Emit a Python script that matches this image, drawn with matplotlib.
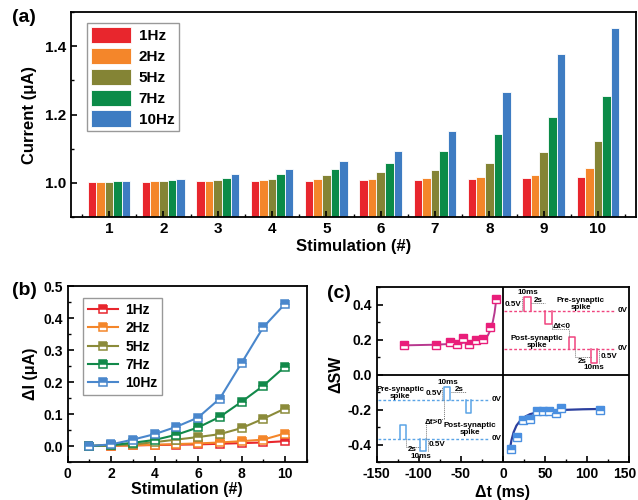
import numpy as np
import matplotlib
matplotlib.use("Agg")
import matplotlib.pyplot as plt
from matplotlib.ticker import MultipleLocator

plt.rcParams['font.family'] = ['Liberation Sans', 'DejaVu Sans']
plt.rcParams['font.weight'] = 'bold'
plt.rcParams['axes.labelweight'] = 'bold'
plt.rcParams['axes.linewidth'] = 1.3
plt.rcParams['mathtext.default'] = 'regular'

# ---- panel (a) / (b) data ----
stim = [1, 2, 3, 4, 5, 6, 7, 8, 9, 10]
freqs = ['1Hz', '2Hz', '5Hz', '7Hz', '10Hz']
bar_colors = ['#E8262D', '#F4862A', '#848435', '#0B8B48', '#3E7CC2']
line_colors = ['#E8262D', '#F4862A', '#8B8B3A', '#12894A', '#4A87CC']

current_1hz = [1.002, 1.003, 1.004, 1.005, 1.006, 1.007, 1.009, 1.011, 1.013, 1.018]
current_2hz = [1.003, 1.004, 1.006, 1.008, 1.011, 1.012, 1.015, 1.018, 1.023, 1.042]
current_5hz = [1.003, 1.004, 1.007, 1.011, 1.024, 1.032, 1.039, 1.058, 1.089, 1.121]
current_7hz = [1.004, 1.008, 1.013, 1.026, 1.041, 1.059, 1.094, 1.143, 1.192, 1.254]
current_10hz = [1.004, 1.010, 1.026, 1.041, 1.063, 1.092, 1.153, 1.267, 1.378, 1.454]

delta_1hz = [0.0, 0.001, 0.002, 0.003, 0.004, 0.005, 0.007, 0.009, 0.011, 0.015]
delta_2hz = [0.0, 0.001, 0.002, 0.004, 0.006, 0.008, 0.011, 0.015, 0.020, 0.039]
delta_5hz = [0.0, 0.002, 0.005, 0.012, 0.020, 0.028, 0.037, 0.056, 0.085, 0.117]
delta_7hz = [0.0, 0.003, 0.010, 0.019, 0.035, 0.058, 0.091, 0.138, 0.188, 0.248]
delta_10hz = [0.0, 0.005, 0.020, 0.037, 0.060, 0.089, 0.148, 0.259, 0.371, 0.444]

# ---- panel (c) data ----
ltd_dt = [-117, -79, -63, -55, -47, -40, -32, -24, -16, -8]
ltd_dsw = [0.171, 0.171, 0.190, 0.177, 0.209, 0.177, 0.200, 0.206, 0.272, 0.434]
ltd_fit_dt = [-120, -100, -80, -60, -40, -30, -22, -18, -15, -12, -10, -8]
ltd_fit_dsw = [0.168, 0.170, 0.172, 0.177, 0.186, 0.194, 0.207, 0.225, 0.255, 0.305, 0.355, 0.43]

ltp_dt = [9, 16.5, 24, 32, 40, 47, 55, 63, 69, 115]
ltp_dsw = [-0.423, -0.357, -0.261, -0.255, -0.204, -0.204, -0.208, -0.220, -0.190, -0.200]
ltp_fit_dt = [8, 10, 12.6, 16, 20.6, 26, 32, 40, 48, 60, 76, 95, 118]
ltp_fit_dsw = [-0.43, -0.375, -0.328, -0.29, -0.261, -0.24, -0.225, -0.215, -0.208, -0.203, -0.2, -0.197, -0.195]

# schematic pulses: (start, width, baseline, level)
pink_pulses = [(25, 8, 0.367, 0.443), (50, 8, 0.367, 0.291),
               (78, 8, 0.149, 0.215), (104, 8, 0.149, 0.065)]
pink_baselines = [0.367, 0.149]
blue_pulses = [(-69.5, 7, -0.143, -0.067), (-43.5, 6, -0.143, -0.217),
               (-122, 6.5, -0.366, -0.286), (-98, 7, -0.366, -0.438)]
blue_baselines = [-0.143, -0.366]

fig = plt.figure(figsize=(6.38, 5.0), dpi=100)

# ================= (a) =================
ax1 = fig.add_axes([0.1113, 0.566, 0.8856, 0.41])
currents = [current_1hz, current_2hz, current_5hz, current_7hz, current_10hz]
w = 0.158
x = np.array(stim)
for i, (vals, lab, c) in enumerate(zip(currents, freqs, bar_colors)):
    ax1.bar(x + (i - 2) * w, np.array(vals) - 0.9, w, bottom=0.9, color=c,
            edgecolor='white', linewidth=0.6, label=lab)
ax1.set_xlim(0.3, 10.7)
ax1.set_ylim(0.9, 1.5)
ax1.set_xticks(stim)
ax1.xaxis.set_minor_locator(MultipleLocator(0.5))
ax1.yaxis.set_minor_locator(MultipleLocator(0.1))
ax1.set_yticks([1.0, 1.2, 1.4])
ax1.set_xlabel('Stimulation (#)', fontsize=12, labelpad=2)
ax1.set_ylabel('Current (μA)', fontsize=12, labelpad=6)
ax1.tick_params(which='both', direction='in', labelsize=11)
ax1.tick_params(which='major', length=4, width=1.2)
ax1.tick_params(which='minor', length=2.5, width=1.0)
leg = ax1.legend(loc='upper left', bbox_to_anchor=(0.028, 0.948), borderaxespad=0,
                 fontsize=11, handlelength=2.6, handleheight=1.25, labelspacing=0.3,
                 handletextpad=0.5, borderpad=0.3, fancybox=False, edgecolor='#999999',
                 framealpha=1)
leg.get_frame().set_linewidth(1.0)

# ================= (b) =================
ax2 = fig.add_axes([0.1061, 0.076, 0.3746, 0.352])
deltas = [delta_1hz, delta_2hz, delta_5hz, delta_7hz, delta_10hz]
for vals, lab, c in zip(deltas, freqs, line_colors):
    ax2.plot(stim, vals, '-s', color=c, lw=1.5, ms=5.5, fillstyle='top',
             markerfacecoloralt='white', markeredgecolor=c, mew=1.1, label=lab)
ax2.set_xlim(0, 11)
ax2.set_ylim(-0.05, 0.5)
ax2.xaxis.set_minor_locator(MultipleLocator(1))
ax2.yaxis.set_major_locator(MultipleLocator(0.1))
ax2.yaxis.set_minor_locator(MultipleLocator(0.05))
ax2.set_xticks([0, 2, 4, 6, 8, 10])
ax2.set_xlabel('Stimulation (#)', fontsize=11.5, labelpad=1)
ax2.set_ylabel('ΔI (μA)', fontsize=11.5, labelpad=4)
ax2.tick_params(which='both', direction='in', labelsize=10)
ax2.tick_params(which='major', length=4, width=1.2)
ax2.tick_params(which='minor', length=2.5, width=1.0)
ax2.yaxis.set_major_formatter(plt.FuncFormatter(lambda v, p: f'{v:.1f}'))
leg2 = ax2.legend(loc='upper left', bbox_to_anchor=(0.063, 0.93), borderaxespad=0,
                  fontsize=10, handlelength=2.2, labelspacing=0.3, handletextpad=0.5,
                  borderpad=0.35, fancybox=False, edgecolor='#999999', framealpha=1)
leg2.get_frame().set_linewidth(1.0)

# ================= (c) =================
ax3 = fig.add_axes([0.5904, 0.0754, 0.396, 0.35])
ax3.axvline(0, color='black', lw=1.3)
ax3.axhline(0, color='black', lw=1.3)

ax3.plot(ltd_fit_dt, ltd_fit_dsw, color='#B8398F', lw=1.4, zorder=3)
ax3.plot(ltd_dt, ltd_dsw, 's', color='#E91E7A', ms=5.5, fillstyle='top',
         markerfacecoloralt='white', mew=1.0, zorder=4)
ax3.plot(ltp_fit_dt, ltp_fit_dsw, color='#2B3F9E', lw=1.6, zorder=3)
ax3.plot(ltp_dt, ltp_dsw, 's', color='#4A8FE0', ms=5.5, fillstyle='top',
         markerfacecoloralt='white', mew=1.0, zorder=4)


def draw_pulse(ax, t0, width, base, level, color):
    ax.plot([t0, t0, t0 + width, t0 + width], [base, level, level, base],
            color=color, lw=1.1)


pink = '#F0447F'
blue = '#5BA4E6'
fs = 5.8
for b in pink_baselines:
    ax3.plot([1, 133], [b, b], color=pink, lw=1.0, ls=(0, (2, 1.5)))
    ax3.text(142, b, '0V', fontsize=fs, ha='center', va='center')
for p in pink_pulses:
    draw_pulse(ax3, *p, pink)
for b in blue_baselines:
    ax3.plot([-149, -16], [b, b], color=blue, lw=1.0, ls=(0, (2, 1.5)))
    ax3.text(-8, b, '0V', fontsize=fs, ha='center', va='center')
for p in blue_pulses:
    draw_pulse(ax3, *p, blue)

gdot = dict(color='#777777', lw=0.7, ls=(0, (1, 1)))
# top-right annotations
ax3.plot([22, 22], [0.367, 0.443], **gdot)
ax3.plot([33, 50], [0.41, 0.41], **gdot)
ax3.plot([58, 58], [0.291, 0.262], **gdot)
ax3.plot([58, 78], [0.262, 0.262], **gdot)
ax3.plot([78, 78], [0.215, 0.262], **gdot)
ax3.plot([86, 86], [0.149, 0.1], **gdot)
ax3.plot([86, 104], [0.1, 0.1], **gdot)
ax3.plot([114, 114], [0.065, 0.149], **gdot)
ax3.text(29, 0.472, '10ms', fontsize=fs, ha='center', va='center')
ax3.text(12, 0.40, '0.5V', fontsize=fs, ha='center', va='center')
ax3.text(42, 0.425, '2s', fontsize=fs, ha='center', va='center')
ax3.text(92, 0.405, 'Pre-synaptic\nspike', fontsize=fs, ha='center', va='center',
         linespacing=0.9)
ax3.text(70, 0.278, 'Δt<0', fontsize=fs, ha='center', va='center')
ax3.text(40, 0.188, 'Post-synaptic\nspike', fontsize=fs, ha='center', va='center',
         linespacing=0.9)
ax3.text(94, 0.078, '2s', fontsize=fs, ha='center', va='center')
ax3.text(126, 0.105, '0.5V', fontsize=fs, ha='center', va='center')
ax3.text(108, 0.044, '10ms', fontsize=fs, ha='center', va='center')

# bottom-left annotations
ax3.plot([-72, -72], [-0.143, -0.067], **gdot)
ax3.plot([-62, -43.5], [-0.1, -0.1], **gdot)
ax3.plot([-69.5, -69.5], [-0.143, -0.255], **gdot)
ax3.plot([-91, -69.5], [-0.255, -0.255], **gdot)
ax3.plot([-91, -91], [-0.366, -0.255], **gdot)
ax3.plot([-115.5, -115.5], [-0.366, -0.41], **gdot)
ax3.plot([-115.5, -98], [-0.41, -0.41], **gdot)
ax3.plot([-89, -89], [-0.438, -0.366], **gdot)
ax3.text(-66, -0.043, '10ms', fontsize=fs, ha='center', va='center')
ax3.text(-82, -0.105, '0.5V', fontsize=fs, ha='center', va='center')
ax3.text(-52, -0.084, '2s', fontsize=fs, ha='center', va='center')
ax3.text(-122, -0.105, 'Pre-synaptic\nspike', fontsize=fs, ha='center', va='center',
         linespacing=0.9)
ax3.text(-82, -0.273, 'Δt>0', fontsize=fs, ha='center', va='center')
ax3.text(-39, -0.31, 'Post-synaptic\nspike', fontsize=fs, ha='center', va='center',
         linespacing=0.9)
ax3.text(-108, -0.428, '2s', fontsize=fs, ha='center', va='center')
ax3.text(-78, -0.40, '0.5V', fontsize=fs, ha='center', va='center')
ax3.text(-98, -0.467, '10ms', fontsize=fs, ha='center', va='center')

ax3.set_xlim(-150, 150)
ax3.set_ylim(-0.5, 0.5)
ax3.xaxis.set_major_locator(MultipleLocator(50))
ax3.xaxis.set_minor_locator(MultipleLocator(25))
ax3.set_yticks([-0.4, -0.2, 0.0, 0.2, 0.4])
ax3.yaxis.set_minor_locator(MultipleLocator(0.1))
ax3.yaxis.set_major_formatter(plt.FuncFormatter(lambda v, p: f'{v:.1f}'))
# the 150 label is drawn separately, nudged left so it stays on the canvas
ax3.xaxis.set_major_formatter(plt.FuncFormatter(lambda v, p: '' if v > 149 else f'{v:.0f}'))
ax3.annotate('150', xy=(150, 0), xycoords=('data', 'axes fraction'),
             xytext=(-3.5, -3.5), textcoords='offset points', ha='center', va='top',
             fontsize=10, fontweight='bold')
ax3.set_xlabel('Δt (ms)', fontsize=11.5, labelpad=3)
ax3.set_ylabel('ΔSW', fontsize=11.5, labelpad=3)
ax3.tick_params(which='both', direction='in', labelsize=10)
ax3.tick_params(which='major', length=4, width=1.2)
ax3.tick_params(which='minor', length=2.5, width=1.0)

fig.text(0.019, 0.955, '(a)', fontsize=14, fontweight='bold')
fig.text(0.019, 0.41, '(b)', fontsize=14, fontweight='bold')
fig.text(0.513, 0.405, '(c)', fontsize=14, fontweight='bold')

fig.savefig('out.png', dpi=100)
